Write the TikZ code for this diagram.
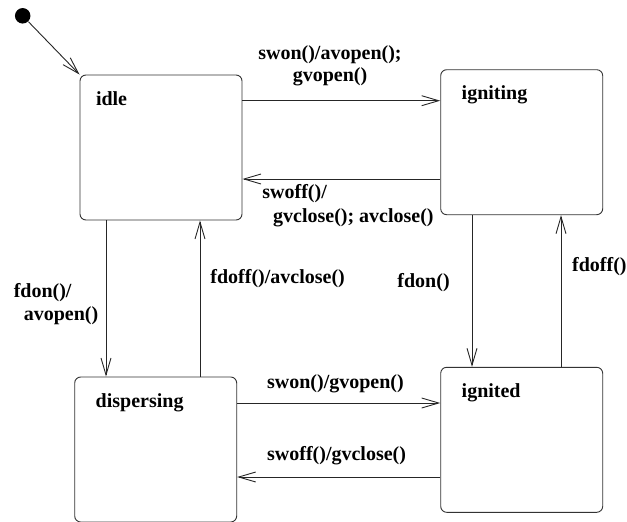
\documentclass[tikz,border=0pt]{standalone}
\usepackage{fontspec}
\setmainfont{Liberation Serif}
\usetikzlibrary{arrows.meta,calc}
\begin{document}
\begin{tikzpicture}[x=1pt,y=-1pt,
  line width=0.9pt,
  state/.style={draw=black!80, rounded corners=6pt, minimum width=162pt,
    minimum height=145pt, inner sep=0pt},
  statename/.style={anchor=base west, inner sep=0pt, font=\fontsize{20}{22}\selectfont\bfseries},
  evt/.style={inner sep=0pt, font=\fontsize{20}{22}\selectfont\bfseries},
  trans/.style={draw=black!85, -{Straight Barb[length=17pt,width=10pt,line width=0.9pt]}},
  initdot/.style={circle, fill=black, minimum size=15.5pt, inner sep=0pt}]
\useasboundingbox (0,0) rectangle (627,522);

% states
\node[state] (idle)       at (161,147.5)   {};
\node[state] (igniting)   at (521.7,142.2) {};
\node[state] (dispersing) at (155.7,449.5) {};
\node[state] (ignited)    at (521.7,439.8) {};

\node[statename] (idleName)       at ($(idle.north west)+(16,31)$)       {idle};
\node[statename] (ignitingName)   at ($(igniting.north west)+(21,30)$)   {igniting};
\node[statename] (dispersingName) at ($(dispersing.north west)+(21,31)$) {dispersing};
\node[statename] (ignitedName)    at ($(ignited.north west)+(21,31)$)    {ignited};

% initial pseudo-state
\node[initdot] (init) at (22.7,15.8) {};
\draw[trans] (init) -- (idle.north west);

% transitions
\draw[trans] (idle.east |- 0,100.7) -- (igniting.west |- 0,100.7);
\draw[trans] (igniting.west |- 0,179) -- (idle.east |- 0,179);
\draw[trans] (idle.south -| 106,0) -- (dispersing.north -| 106,0);
\draw[trans] (dispersing.north -| 200,0) -- (idle.south -| 200,0);
\draw[trans] (igniting.south -| 472,0) -- (ignited.north -| 472,0);
\draw[trans] (ignited.north -| 561,0) -- (igniting.south -| 561,0);
\draw[trans] (dispersing.east |- 0,403) -- (ignited.west |- 0,403);
\draw[trans] (ignited.west |- 0,477) -- (dispersing.east |- 0,477);

% transition labels
\node[evt, anchor=north, align=center] (l1) at (330,45)
  {swon()/avopen();\\gvopen()};
\node[evt, anchor=north west, align=left] (l2) at (262,183.5)
  {swoff()/\\[2pt]\hspace*{10.7pt}gvclose(); avclose()};
\node[evt, anchor=north west, align=left] (l3) at (13.3,283)
  {fdon()/\\[1pt]\hspace*{10pt}avopen()};
\node[evt, anchor=base west] (l4) at (210,283) {fdoff()/avclose()};
\node[evt, anchor=base west] (l5) at (397,287) {fdon()};
\node[evt, anchor=base west] (l6) at (571.7,271.7) {fdoff()};
\node[evt, anchor=base west] (l7) at (266.7,388) {swon()/gvopen()};
\node[evt, anchor=base west] (l8) at (266.7,460) {swoff()/gvclose()};
\end{tikzpicture}
\end{document}
